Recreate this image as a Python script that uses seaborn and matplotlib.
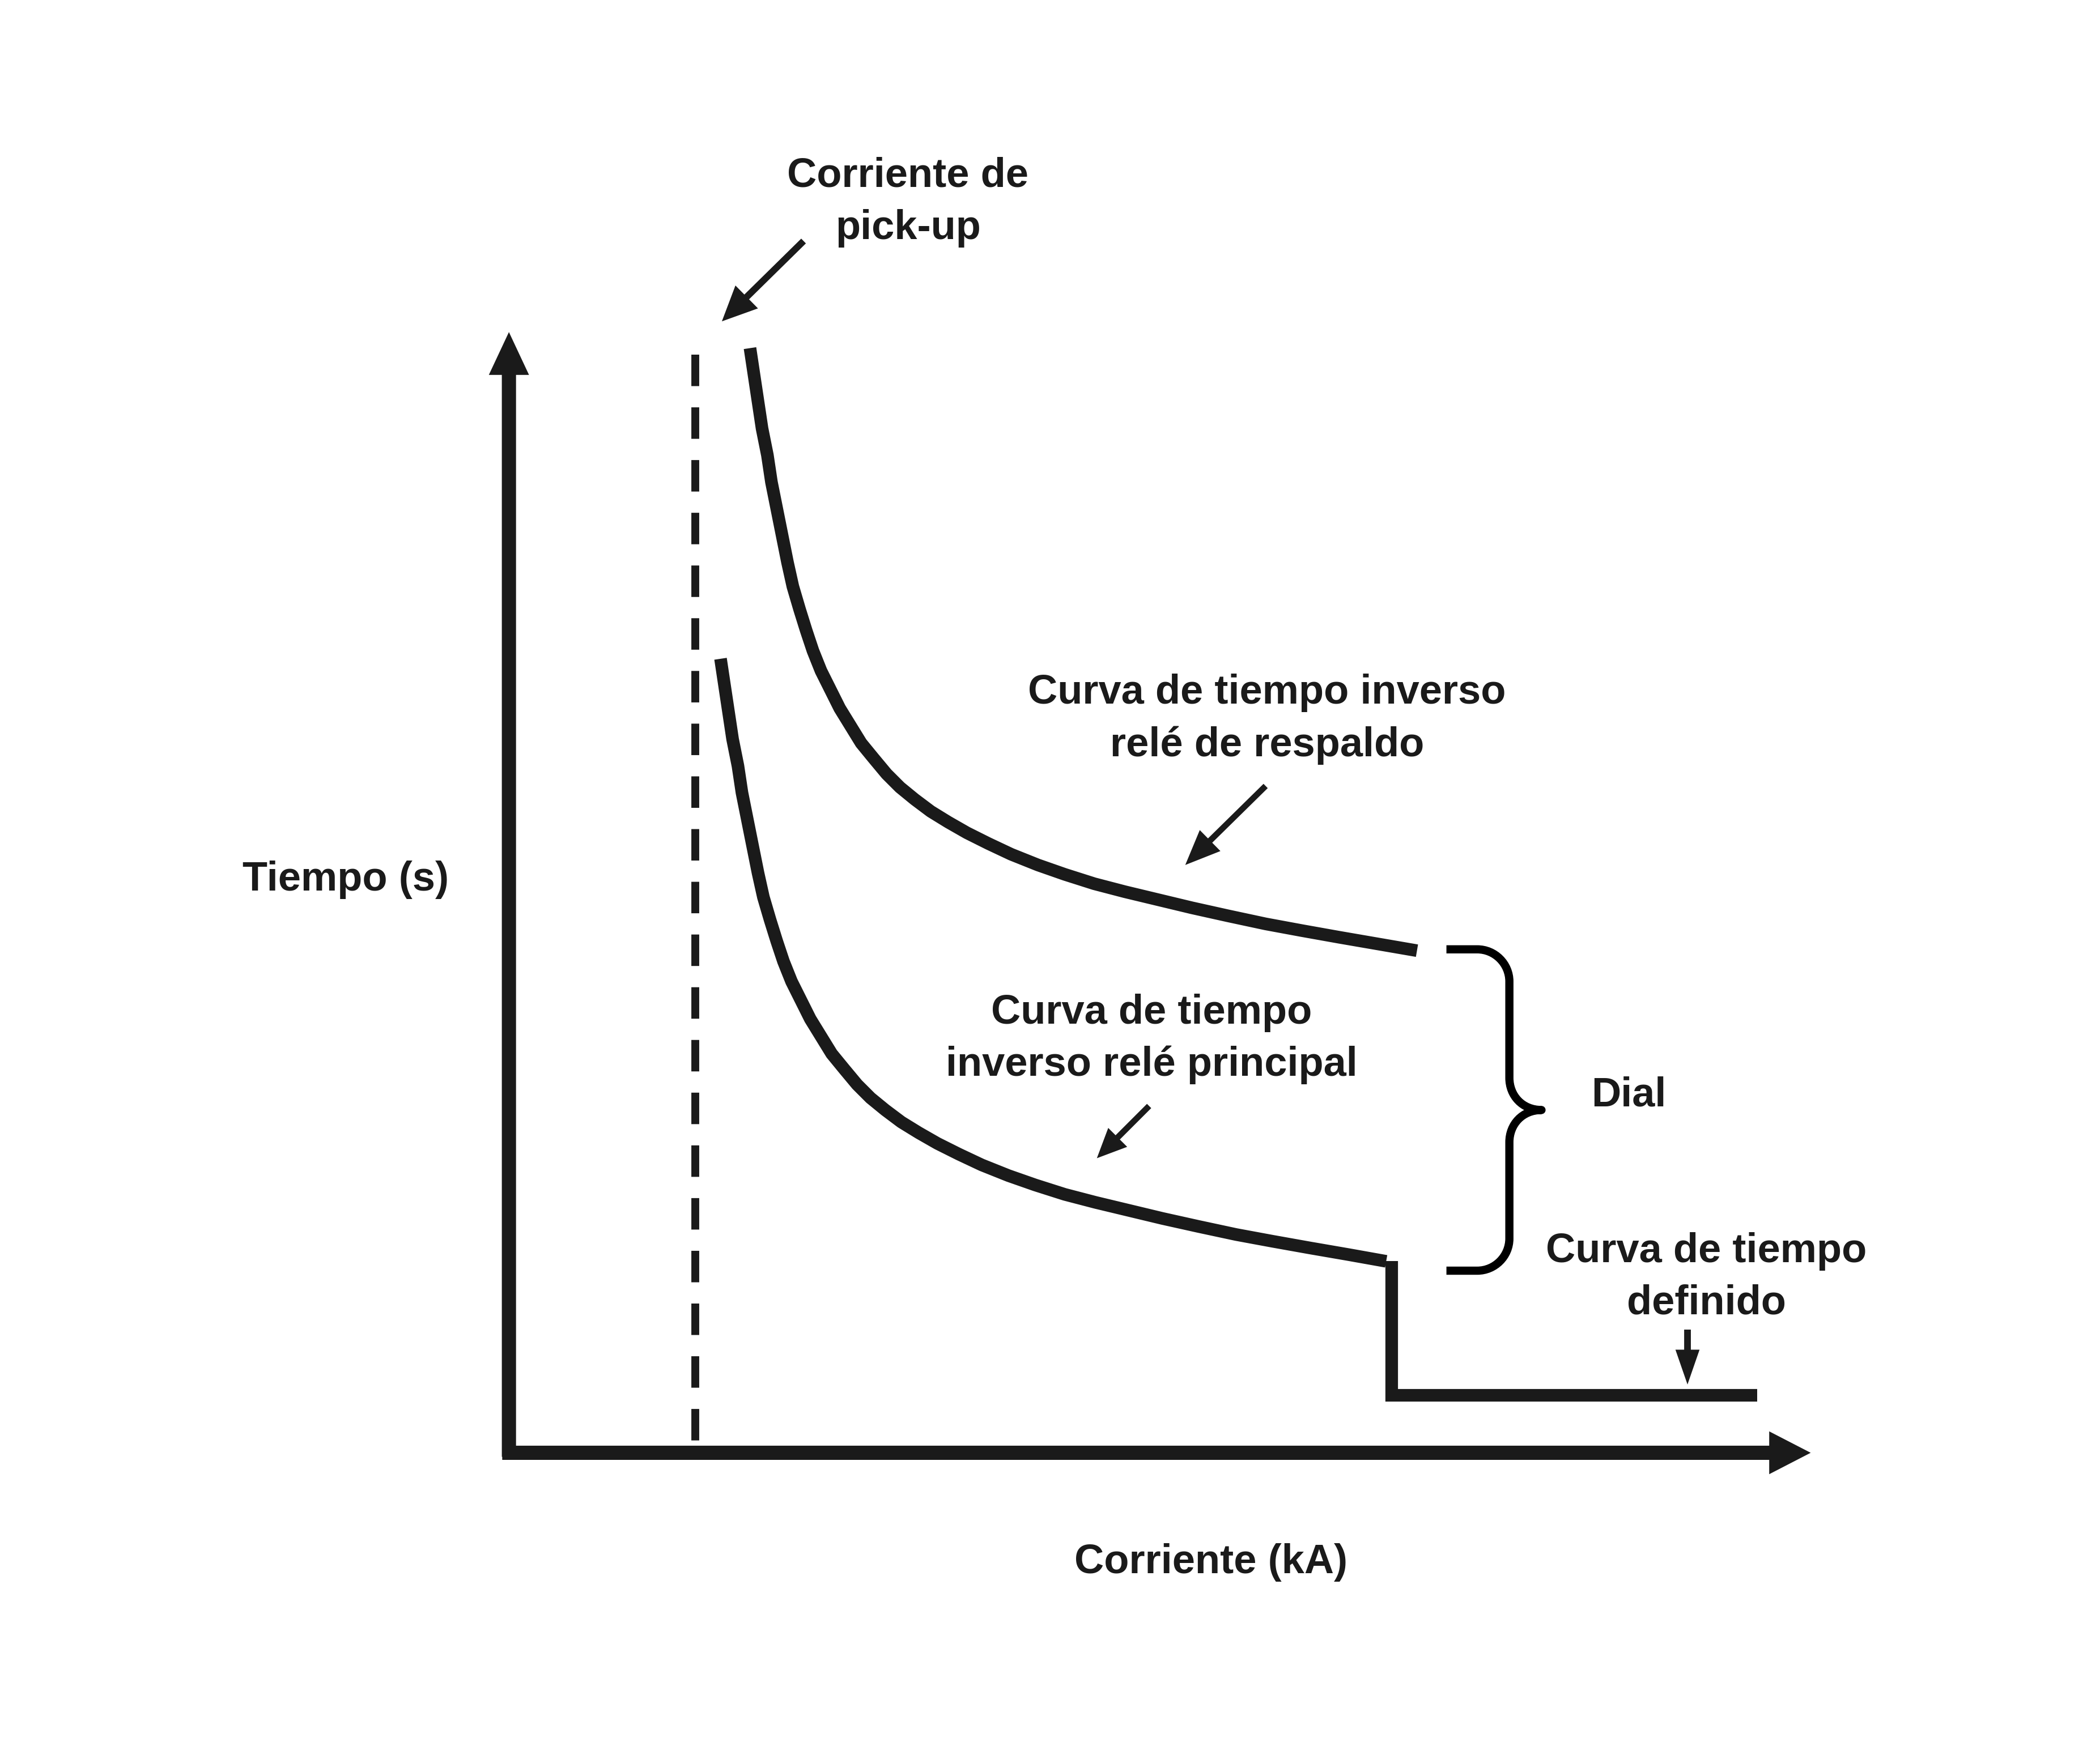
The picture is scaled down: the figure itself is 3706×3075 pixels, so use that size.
import matplotlib
matplotlib.use("Agg")
import matplotlib.pyplot as plt
from matplotlib.path import Path
from matplotlib.patches import PathPatch
import seaborn as sns

# everything is laid out on a canvas of 1568 x 1301 units (y grows downwards)
INK = "#1a1a1a"

# backup relay inverse-time curve (current, time)
backup_x = [560, 563, 566, 569, 573, 576, 580, 584, 588, 592, 597, 602, 607, 613, 620, 627,
            635, 643, 652, 662, 672, 683, 695, 708, 722, 738, 755, 775, 795, 817, 840, 865,
            890, 917, 945, 972, 1000, 1029, 1058]
backup_y = [260, 280, 300, 320, 340, 360, 380, 400, 420, 438, 455, 471, 486, 501, 515, 529,
            542, 555, 566, 578, 588, 597, 606, 614, 622, 630, 638, 646, 653, 660, 666, 672,
            678, 684, 690, 695, 700, 705, 710]

# main relay inverse-time curve
main_x = [538, 541, 544, 547, 551, 554, 558, 562, 566, 570, 575, 580, 585, 591, 598, 605,
          613, 621, 630, 640, 650, 661, 673, 686, 700, 716, 733, 753, 773, 795, 818, 843,
          868, 895, 923, 950, 978, 1007, 1035]
main_y = [492, 512, 532, 552, 572, 592, 612, 632, 652, 670, 687, 703, 718, 733, 747, 761,
          774, 787, 798, 810, 820, 829, 838, 846, 854, 862, 870, 878, 885, 892, 898, 904,
          910, 916, 922, 927, 932, 937, 942]

# definite-time step
definite_x = [1039, 1039, 1312]
definite_y = [942, 1042, 1042]

# pick-up current
pickup_x = 519
origin = (380, 1083)
axis_end = (1352, 248)   # x tip, y tip

labels = {
    "pickup": "Corriente de\npick-up",
    "backup": "Curva de tiempo inverso\nrelé de respaldo",
    "main": "Curva de tiempo\ninverso relé principal",
    "definite": "Curva de tiempo\ndefinido",
    "dial": "Dial",
    "ylabel": "Tiempo (s)",
    "xlabel": "Corriente (kA)",
}

sns.set_theme(style="white")
plt.rcParams['font.family'] = ['Liberation Sans', 'DejaVu Sans']

fig = plt.figure(figsize=(18.53, 15.375), dpi=200)
ax = fig.add_axes([0, 0, 1, 1])
ax.set_xlim(0, 1568)
ax.set_ylim(1301, 0)
ax.axis("off")

# axes with arrow heads
ax.arrow(origin[0], origin[1] + 5, 0, axis_end[1] - origin[1] - 5, width=10.6,
         head_width=30, head_length=32, length_includes_head=True, color=INK, lw=0)
ax.arrow(origin[0] - 5, origin[1] + 2, axis_end[0] - origin[0] + 5, 0, width=10.6,
         head_width=32, head_length=31, length_includes_head=True, color=INK, lw=0)

# pick-up dashed line
ax.plot([pickup_x, pickup_x], [265, origin[1]], color=INK, lw=5,
        linestyle=(0, (4.0, 2.7)), solid_capstyle="butt", dash_capstyle="butt")

# curves
curve_kw = dict(color=INK, lw=8, sort=False, estimator=None, legend=False, ax=ax)
sns.lineplot(x=backup_x, y=backup_y, solid_capstyle="butt", solid_joinstyle="round", **curve_kw)
sns.lineplot(x=main_x, y=main_y, solid_capstyle="butt", solid_joinstyle="round", **curve_kw)
sns.lineplot(x=definite_x, y=definite_y, solid_capstyle="butt",
             solid_joinstyle="miter", **curve_kw)


def brace(ax, x0, xv, xt, y0, y1, r=24):
    ym = (y0 + y1) / 2
    verts = [
        (x0, y0), (xv - r, y0),
        (xv - r * 0.45, y0), (xv, y0 + r * 0.45), (xv, y0 + r),
        (xv, ym - r),
        (xv, ym - r * 0.45), (xt - r * 0.6, ym), (xt, ym),
        (xt - r * 0.6, ym), (xv, ym + r * 0.45), (xv, ym + r),
        (xv, y1 - r),
        (xv, y1 - r * 0.45), (xv - r * 0.45, y1), (xv - r, y1),
        (x0, y1),
    ]
    codes = [Path.MOVETO, Path.LINETO,
             Path.CURVE4, Path.CURVE4, Path.CURVE4,
             Path.LINETO,
             Path.CURVE4, Path.CURVE4, Path.CURVE4,
             Path.CURVE4, Path.CURVE4, Path.CURVE4,
             Path.LINETO,
             Path.CURVE4, Path.CURVE4, Path.CURVE4,
             Path.LINETO]
    ax.add_patch(PathPatch(Path(verts, codes), fill=False, ec="black", lw=5.2,
                           capstyle="butt", joinstyle="round"))


brace(ax, 1080, 1127, 1151, 709, 949)

# annotation arrows (tail -> tip)
def pointer(x0, y0, x1, y1, w=5, hw=24, hl=26):
    ax.arrow(x0, y0, x1 - x0, y1 - y0, width=w, head_width=hw, head_length=hl,
             length_includes_head=True, color=INK, lw=0)


pointer(600, 180, 539, 240)
pointer(945, 587, 885, 646, w=4.5, hw=22, hl=26)
pointer(858, 826, 819, 865, w=4.5, hw=20, hl=22)
pointer(1260, 993, 1260, 1034, w=5, hw=18, hl=26)

txt = dict(fontsize=26, fontweight="bold", color=INK, ha="center", va="center",
           linespacing=1.45)
ax.text(678, 151, labels["pickup"], **txt)
ax.text(946, 537, labels["backup"], **txt)
ax.text(860, 776, labels["main"], **txt)
ax.text(1274, 954, labels["definite"], **txt)
ax.text(1216, 818, labels["dial"], **txt)
ax.text(258, 657, labels["ylabel"], **txt)
ax.text(904, 1167, labels["xlabel"], **txt)

fig.savefig("out.png", dpi=200, facecolor="white")
